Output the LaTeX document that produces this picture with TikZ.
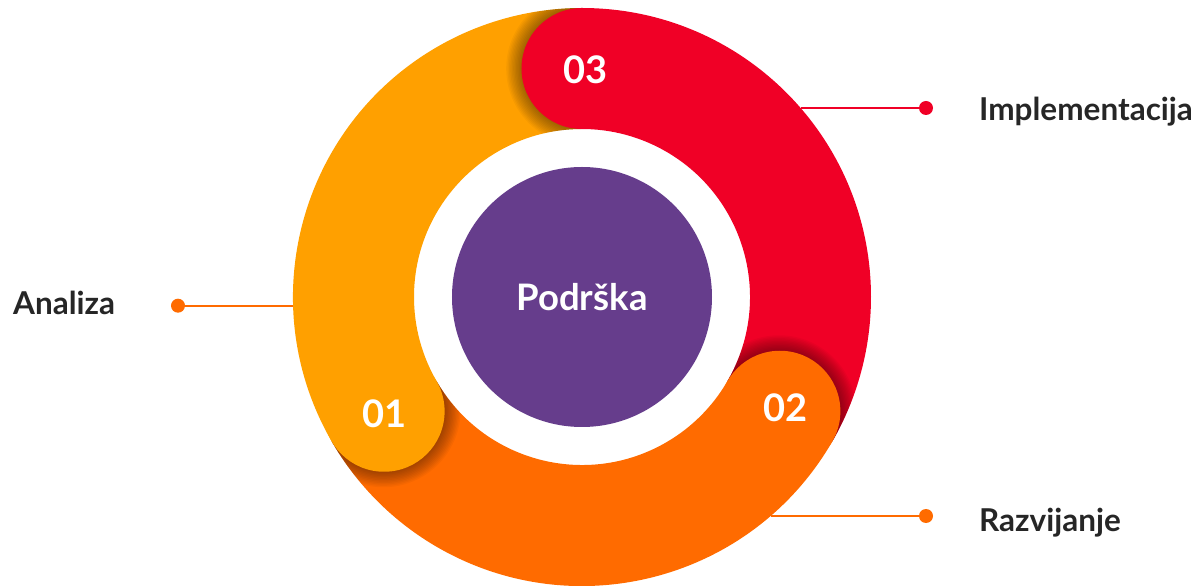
\documentclass[tikz,border=0pt]{standalone}
\usepackage{fontspec}
\setmainfont{Lato}
\definecolor{yellowc}{HTML}{FFA000}
\definecolor{redc}{HTML}{F00026}
\definecolor{orangec}{HTML}{FF6B00}
\definecolor{purplec}{HTML}{663D8C}
\definecolor{labelgray}{HTML}{262626}
\newcommand\bandsector[3]{\fill[#1] (#2:289) arc[start angle=#2, end angle=#3, radius=289] -- (#3:168) arc[start angle=#3, end angle=#2, radius=168] -- cycle;}
\newcommand\capshadow[1]{%
  \begin{scope}
    \clip (#1:289) arc[start angle=#1, end angle=#1+45, radius=289] -- (#1+45:168) arc[start angle=#1+45, end angle=#1, radius=168] -- cycle;
    \begin{scope}[rotate=#1]
      \foreach \k in {1,...,12} \fill[black,opacity=0.035] (228.5,-1.5) circle[radius={60.5+1.4*\k}];
    \end{scope}
  \end{scope}}
\tikzset{
  capnode/.style={circle, inner sep=0pt, minimum size=121pt},
  numtxt/.style={text=white, font=\bfseries\fontsize{38}{40}\selectfont, inner sep=0pt, anchor=base},
  lbl/.style={text=labelgray, font=\bfseries\fontsize{31.5}{34}\selectfont, inner sep=0pt, anchor=base west},
  dotnode/.style={circle, inner sep=0pt, minimum size=14pt},
  leader/.style={line width=2pt},
}
\begin{document}
\begin{tikzpicture}[x=1pt,y=1pt]
\useasboundingbox (-582,-289) rectangle (618,297);
% leader lines
\coordinate (eA) at (-288.9,-8.7);
\coordinate (eI) at (218.6,189);
\coordinate (eR) at (188.6,-219);
\node[dotnode, fill=orangec] (dA) at (-404,-8.7) {};
\node[dotnode, fill=redc] (dI) at (344,189) {};
\node[dotnode, fill=orangec] (dR) at (344,-219) {};
\draw[leader, orangec] (eA) -- (dA);
\draw[leader, redc] (eI) -- (dI);
\draw[leader, orangec] (eR) -- (dR);
% bands
\bandsector{yellowc}{210}{90}
\bandsector{redc}{90}{-30}
\bandsector{orangec}{-30}{-150}
% cap shadows
\capshadow{210}
\capshadow{90}
\capshadow{-30}
% caps
\node[capnode, fill=yellowc] (c01) at (210:228.5) {};
\node[capnode, fill=redc] (c03) at (90:228.5) {};
\node[capnode, fill=orangec] (c02) at (-30:228.5) {};
% centre
\node[circle, fill=purplec, inner sep=0pt, minimum size=260pt] (core) at (0,0) {};
\node[text=white, font=\bfseries\fontsize{36.5}{38}\selectfont, inner sep=0pt, anchor=base] (ctext) at (0,-14) {Podrška};
% numbers
\node[numtxt] (t03) at (4,213) {03};
\node[numtxt] (t01) at (-197.5,-131) {01};
\node[numtxt] (t02) at (203.5,-125) {02};
% labels
\node[lbl] (lA) at (-569,-18) {Analiza};
\node[lbl] (lI) at (397,176) {Implementacija};
\node[lbl] (lR) at (397,-234) {Razvijanje};
\end{tikzpicture}
\end{document}
